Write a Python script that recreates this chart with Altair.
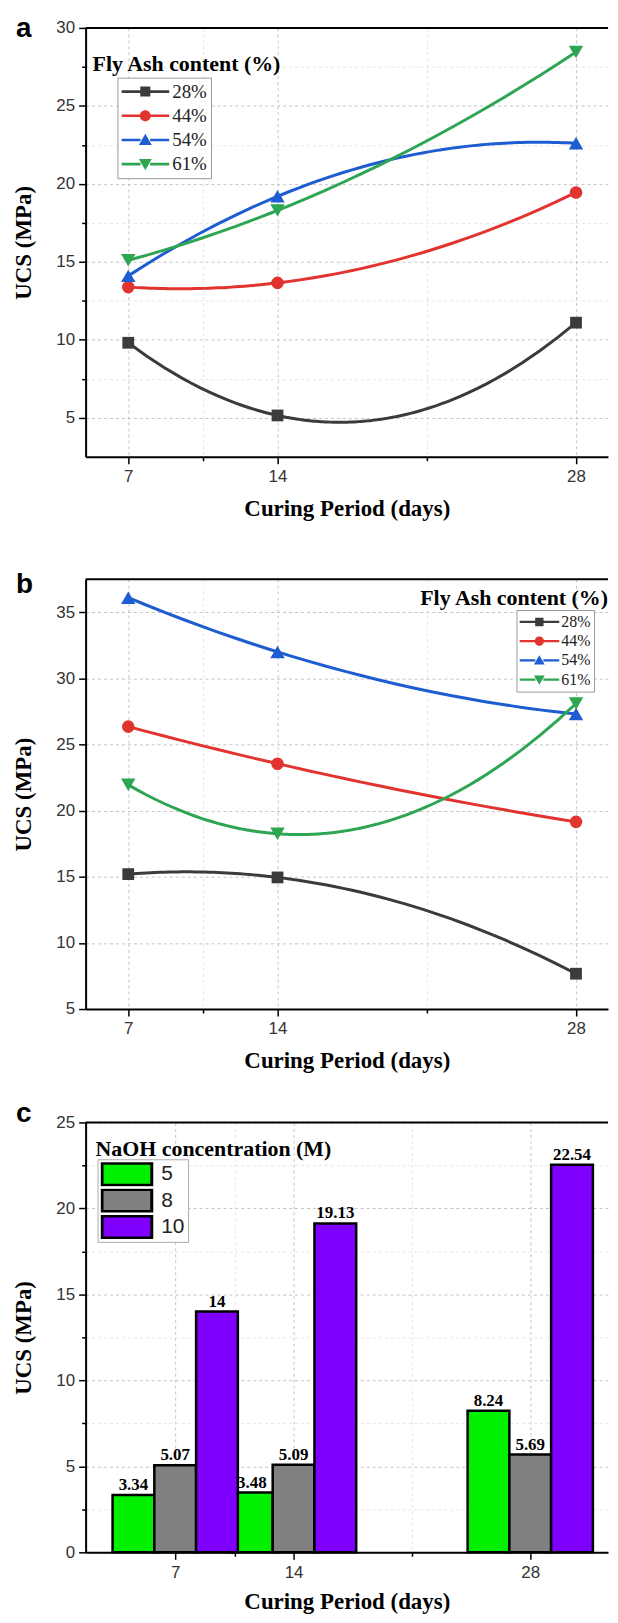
import altair as alt
import pandas as pd

# ---------------- data ----------------
DAYS = [7, 14, 28]
FLY_ASH = ["28%", "44%", "54%", "61%"]
A_28 = [9.81, 5.15, 11.1]
A_44 = [13.38, 13.65, 19.45]
A_54 = [14.1, 19.2, 22.6]
A_61 = [15.1, 18.3, 28.45]
B_28 = [15.2, 14.95, 7.67]
B_44 = [26.35, 23.55, 19.15]
B_54 = [36.1, 32.0, 27.3]
B_61 = [21.95, 18.25, 28.1]
NAOH = ["5", "8", "10"]
C_5 = [3.34, 3.48, 8.24]
C_8 = [5.07, 5.09, 5.69]
C_10 = [14, 19.13, 22.54]

X_TICKS = [7, 10.5, 14, 21, 28]
X_LABELED = [7, 14, 28]
Y_TICKS_A = [5, 7.5, 10, 12.5, 15, 17.5, 20, 22.5, 25, 27.5, 30]
Y_TICKS_B = [5, 7.5, 10, 12.5, 15, 17.5, 20, 22.5, 25, 27.5, 30, 32.5, 35, 37.5]
Y_TICKS_C = [0, 2.5, 5, 7.5, 10, 12.5, 15, 17.5, 20, 22.5, 25]

X_TITLE = "Curing Period (days)"
Y_TITLE = "UCS (MPa)"
LEG_TITLE_AB = "Fly Ash content (%)"
LEG_TITLE_C = "NaOH concentration (M)"
LETTERS = ["a", "b", "c"]

# ---------------- style ----------------
SERIF = "Liberation Serif"
SANS = "Liberation Sans"
LINE_COLORS = ["#3b3b3b", "#e2342e", "#1d5cd1", "#2ea553"]
MARKERS = ["square", "circle", "triangle-up", "triangle-down"]
MARKER_SIZES = [140, 160, 210, 210]
BAR_COLORS = ["#00f000", "#808080", "#7f00ff"]
BAR_W = 2.47  # bar width in days

_LINE = "M-1,-0.055L-0.2,-0.055L-0.2,0.055L-1,0.055Z M0.2,-0.055L1,-0.055L1,0.055L0.2,0.055Z "
LEG_SYMBOLS = [
    _LINE + "M-0.21,-0.21L0.21,-0.21L0.21,0.21L-0.21,0.21Z",
    _LINE + "M-0.23,0A0.23,0.23 0 1,1 0.23,0A0.23,0.23 0 1,1 -0.23,0Z",
    _LINE + "M0,-0.26L0.27,0.21L-0.27,0.21Z",
    _LINE + "M0,0.26L-0.27,-0.21L0.27,-0.21Z",
]
RECT_PATH = "M-1,-0.44L1,-0.44L1,0.44L-1,0.44Z"

W = 525


def cond(test, a, b):
    return {"condition": {"test": test, "value": a}, "value": b}


AX = dict(domainColor="black", domainWidth=2, tickColor="black", tickWidth=1.5,
          labelFont=SANS, labelFontSize=17, labelColor="#333", labelFlush=False,
          labelOverlap=False, titleFont=SERIF, titleFontSize=23, titleFontWeight="bold",
          titleColor="black", gridDash=[3, 3], gridWidth=1)


def x_axis(title_pad=13):
    test = "indexof([" + ",".join(str(v) for v in X_LABELED) + "], datum.value) >= 0"
    return alt.Axis(values=X_TICKS, labelExpr=test + " ? datum.label : ''",
                    tickSize=cond(test, 7, 4), gridColor=cond(test, "#c4c4c4", "#e6e6e6"),
                    title=X_TITLE, labelPadding=5, titlePadding=title_pad, **AX)


def y_axis(ticks):
    test = "abs(datum.value % 5) < 0.001"
    return alt.Axis(values=ticks, labelExpr=test + " ? datum.label : ''",
                    tickSize=cond(test, 7, 4), gridColor=cond(test, "#c4c4c4", "#e6e6e6"),
                    title=Y_TITLE, labelPadding=4, titlePadding=20, **AX)


def note(txt, x, y, size, font, align):
    return alt.Chart(pd.DataFrame({"t": [txt]})).mark_text(
        font=font, fontSize=size, fontWeight="bold", align=align, baseline="alphabetic",
        color="black").encode(x=alt.value(x), y=alt.value(y), text="t:N")


def top_rule(v):
    return alt.Chart(pd.DataFrame({"v": [v]})).mark_rule(color="black", strokeWidth=2).encode(
        y=alt.datum(v))


def line_panel(vals, ydom, yticks, leg, letter, letter_y, tx, ty, talign, height):
    rows = []
    for s, v in zip(FLY_ASH, vals):
        for d, u in zip(DAYS, v):
            rows.append({"day": d, "ucs": u, "series": s})
    df = pd.DataFrame(rows)
    xe = alt.X("day:Q", scale=alt.Scale(domain=[5, 29.5], nice=False, zero=False), axis=x_axis())
    ye = alt.Y("ucs:Q", scale=alt.Scale(domain=ydom, nice=False, zero=False), axis=y_axis(yticks))
    cscale = alt.Scale(domain=FLY_ASH, range=LINE_COLORS)
    base = alt.Chart(df)
    legend_layer = base.transform_filter("false").mark_point(filled=True).encode(
        x=xe, y=ye,
        color=alt.Color("series:N", scale=cscale, legend=leg),
        shape=alt.Shape("series:N", scale=alt.Scale(domain=FLY_ASH, range=LEG_SYMBOLS), legend=leg),
    )
    lines = base.transform_regression(
        "day", "ucs", method="poly", order=2, groupby=["series"], extent=[7, 28]
    ).mark_line(strokeWidth=3).encode(
        x=xe, y=ye, color=alt.Color("series:N", scale=cscale, legend=None))
    marks = [
        base.transform_filter(alt.datum.series == s).mark_point(
            filled=True, shape=m, size=sz, color=c, opacity=1).encode(x=xe, y=ye)
        for s, m, sz, c in zip(FLY_ASH, MARKERS, MARKER_SIZES, LINE_COLORS)
    ]
    return alt.layer(
        legend_layer, lines, *marks, top_rule(ydom[1]),
        note(letter, -70, letter_y, 28, SANS, "left"),
        note(LEG_TITLE_AB, tx, ty, 22, SERIF, talign),
    ).properties(width=W, height=height)


def leg_lines(lx, ly, size, clip, rowpad, pad, fsize, loff):
    return alt.Legend(orient="none", legendX=lx, legendY=ly, title=None, symbolSize=size,
                      clipHeight=clip, rowPadding=rowpad, padding=pad, labelFont=SERIF,
                      labelFontSize=fsize, labelColor="#222", labelOffset=loff,
                      strokeColor="#999", fillColor="white", symbolOpacity=1,
                      symbolStrokeWidth=0)


panel_a = line_panel([A_28, A_44, A_54, A_61], [2.5, 30], Y_TICKS_A,
                     leg_lines(32, 50, 2304, 20, 4.3, 4, 19, 3), LETTERS[0], 9,
                     7, 43, "left", 431)
panel_b = line_panel([B_28, B_44, B_54, B_61], [5, 37.5], Y_TICKS_B,
                     leg_lines(433, 31, 1600, 18, 1.3, 3, 16, 2), LETTERS[1], 14,
                     W, 26, "right", 432)

# ---------------- bar panel ----------------
rows = []
for k, (conc, vals) in enumerate(zip(NAOH, [C_5, C_8, C_10])):
    for d, u in zip(DAYS, vals):
        rows.append({"day": d, "ucs": u, "conc": conc, "k": k, "lab": f"{u:g}"})
dfc = pd.DataFrame(rows)
basec = alt.Chart(dfc).transform_calculate(
    x0=f"datum.day + (datum.k - 1.5) * {BAR_W}",
    x1=f"datum.day + (datum.k - 0.5) * {BAR_W}",
    xc=f"datum.day + (datum.k - 1) * {BAR_W}",
)
xs_c = alt.Scale(domain=[1.7, 32.6], nice=False, zero=False)
ys_c = alt.Scale(domain=[0, 25], nice=False)
leg_c = alt.Legend(orient="none", legendX=12, legendY=37, title=None, symbolType=RECT_PATH,
                   symbolSize=2500, symbolStrokeColor="black", symbolStrokeWidth=3,
                   clipHeight=24, rowPadding=2.5, padding=3, labelFont=SANS, labelFontSize=21,
                   labelColor="#222", labelOffset=8, strokeColor="#aaa", fillColor="white",
                   symbolOpacity=1)
c_layers = []
for k in range(len(NAOH)):
    sub = basec.transform_filter(alt.datum.k == k)
    c_layers.append(sub.mark_bar(stroke="black", strokeWidth=2.5).encode(
        x=alt.X("x0:Q", scale=xs_c, axis=x_axis(10)),
        x2="x1:Q",
        y=alt.Y("ucs:Q", scale=ys_c, axis=y_axis(Y_TICKS_C)),
        y2=alt.datum(0),
        color=alt.Color("conc:N", scale=alt.Scale(domain=NAOH, range=BAR_COLORS), legend=leg_c),
    ))
    c_layers.append(sub.mark_text(font=SERIF, fontWeight="bold", fontSize=17, baseline="bottom",
                                  dy=-1, color="black").encode(
        x=alt.X("xc:Q", scale=xs_c, axis=x_axis(10)),
        y=alt.Y("ucs:Q", scale=ys_c, axis=y_axis(Y_TICKS_C)),
        text="lab:N",
    ))
panel_c = alt.layer(
    *c_layers, top_rule(25),
    note(LETTERS[2], -70, 0, 28, SANS, "left"),
    note(LEG_TITLE_C, 10, 34, 22, SERIF, "left"),
).properties(width=W, height=432)

inner = alt.vconcat(panel_a, panel_b, spacing=49).resolve_scale(
    color="independent", shape="independent", x="independent", y="independent")
chart = alt.vconcat(inner, panel_c, spacing=26).resolve_scale(
    color="independent", shape="independent", x="independent", y="independent"
).properties(
    padding={"left": 4, "top": 2, "right": 0, "bottom": 0}
).configure_view(stroke="transparent")

chart.save("out.html", embed_options={"renderer": "svg", "actions": False})
